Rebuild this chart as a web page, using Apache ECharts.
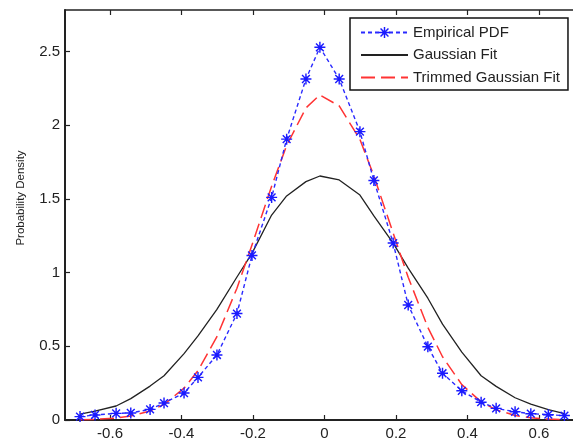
<!DOCTYPE html>
<html><head><meta charset="utf-8">
<script src="https://cdn.jsdelivr.net/npm/echarts@6/dist/echarts.min.js"></script>
<style>html,body{margin:0;padding:0;background:#fff}#c{width:573px;height:441px}</style>
</head><body><div id="c"></div>
<script>
// ---- data ----
const xValues = [-0.684,-0.642,-0.583,-0.542,-0.488,-0.449,-0.393,-0.354,-0.301,-0.245,-0.203,-0.148,-0.106,-0.052,-0.013,
                 0.041,0.099,0.138,0.192,0.234,0.289,0.330,0.384,0.438,0.480,0.533,0.577,0.626,0.671];
const empiricalPdf = [0.023,0.034,0.045,0.048,0.072,0.115,0.183,0.289,0.441,0.722,1.116,1.51,1.905,2.313,2.528,
                      2.313,1.956,1.625,1.2,0.78,0.497,0.317,0.198,0.121,0.079,0.056,0.043,0.036,0.03];
const gaussianFit = [0.04,0.06,0.095,0.145,0.23,0.30,0.45,0.57,0.75,0.97,1.13,1.39,1.52,1.617,1.655,
                     1.628,1.526,1.384,1.2,1.03,0.826,0.65,0.46,0.30,0.228,0.151,0.107,0.07,0.044];
const trimmedFit = [0.002,0.004,0.013,0.027,0.061,0.106,0.216,0.335,0.565,0.894,1.187,1.586,1.862,2.117,2.205,
                    2.13,1.903,1.656,1.267,0.968,0.628,0.429,0.240,0.123,0.069,0.031,0.015,0.006,0.003];
const seriesNames = ['Empirical PDF','Gaussian Fit','Trimmed Gaussian Fit'];
const xTicks = [-0.6,-0.4,-0.2,0,0.2,0.4,0.6];
const xTickLabels = ['-0.6','-0.4','-0.2','0','0.2','0.4','0.6'];
const yTicks = [0,0.5,1,1.5,2,2.5];
const yTickLabels = ['0','0.5','1','1.5','2','2.5'];
const yAxisTitle = 'Probability Density';

const pairs = ys => xValues.map((x, i) => [x, ys[i]]);
const asterisk = 'path://M8.7 0L11.3 0L11.3 20L8.7 20Z M0 8.7L20 8.7L20 11.3L0 11.3Z M3.85 2.01L17.99 16.15L16.15 17.99L2.01 3.85Z M16.15 2.01L17.99 3.85L3.85 17.99L2.01 16.15Z';
const FONT = 'Liberation Sans';
const AX = '#222';

const chart = echarts.init(document.getElementById('c'), null, {renderer: 'canvas'});
chart.setOption({
  animation: false,
  backgroundColor: '#fff',
  grid: {left: 65, right: 0, top: 10, bottom: 21, containLabel: false},
  legend: {
    data: [
      {name: seriesNames[0]},
      {name: seriesNames[1], itemStyle: {opacity: 0}},
      {name: seriesNames[2], itemStyle: {opacity: 0}}
    ],
    orient: 'vertical', left: 350, top: 18,
    padding: [7, 8, 5, 10], itemGap: 7.5, itemWidth: 47, itemHeight: 14,
    borderColor: '#111', borderWidth: 1.5, backgroundColor: '#fff',
    selectedMode: false,
    textStyle: {fontFamily: FONT, fontSize: 15, color: '#222'}
  },
  xAxis: [{
    type: 'value', min: -0.726, max: 0.695, position: 'bottom',
    axisLine: {show: true, onZero: false, lineStyle: {color: AX, width: 2}},
    axisTick: {show: true, inside: true, length: 5, customValues: xTicks, lineStyle: {color: AX, width: 1.2}},
    axisLabel: {customValues: xTicks, margin: 6, fontFamily: FONT, fontSize: 15, color: '#222',
      formatter: v => { const i = xTicks.findIndex(t => Math.abs(t - v) < 1e-9); return i >= 0 ? xTickLabels[i] : ''; }},
    splitLine: {show: false}
  }, {
    type: 'value', min: -0.726, max: 0.695, position: 'top',
    axisLine: {show: true, onZero: false, lineStyle: {color: AX, width: 1.5}},
    axisTick: {show: true, inside: true, length: 5, customValues: xTicks, lineStyle: {color: AX, width: 1.2}},
    axisLabel: {show: false},
    splitLine: {show: false}
  }],
  yAxis: [{
    type: 'value', min: 0, max: 2.781, position: 'left',
    axisLine: {show: true, onZero: false, lineStyle: {color: AX, width: 2}},
    axisTick: {show: true, inside: true, length: 5, customValues: yTicks, lineStyle: {color: AX, width: 1.2}},
    axisLabel: {customValues: yTicks, margin: 5, fontFamily: FONT, fontSize: 15, color: '#222',
      formatter: v => { const i = yTicks.findIndex(t => Math.abs(t - v) < 1e-9); return i >= 0 ? yTickLabels[i] : ''; }},
    splitLine: {show: false},
    name: yAxisTitle, nameLocation: 'middle', nameGap: 38,
    nameTextStyle: {fontFamily: FONT, fontSize: 11.5, color: '#222', padding: [0, 0, 0, 34]}
  }],
  series: [{
    name: seriesNames[0], type: 'line', data: pairs(empiricalPdf),
    symbol: asterisk, symbolSize: 11, showSymbol: true,
    itemStyle: {color: '#1a1aff'},
    lineStyle: {color: '#2a2aff', width: 1.4, type: [4, 3]},
    z: 4
  }, {
    name: seriesNames[1], type: 'line', data: pairs(gaussianFit),
    symbol: 'none', showSymbol: false,
    itemStyle: {color: '#222'},
    lineStyle: {color: '#222', width: 1.3},
    z: 2
  }, {
    name: seriesNames[2], type: 'line', data: pairs(trimmedFit),
    symbol: 'none', showSymbol: false,
    itemStyle: {color: '#ff3333'},
    lineStyle: {color: '#ff3333', width: 1.5, type: [14, 6]},
    z: 3
  }]
});
</script></body></html>
